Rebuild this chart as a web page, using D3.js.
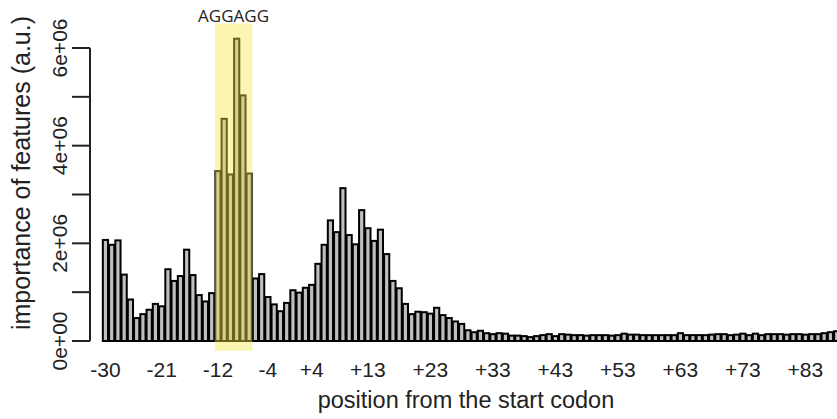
<!DOCTYPE html>
<html lang="en">
<head>
<meta charset="utf-8">
<title>importance of features</title>
<style>
  body { margin: 0; background: #fff; }
  svg text { font-family: "Liberation Sans", Arial, sans-serif; fill: #222; }
</style>
<script src="https://d3js.org/d3.v7.min.js"></script>
</head>
<body>
<div id="viz"></div>
<script>

// positions relative to the start codon (there is no position 0)
var positions = d3.range(-30, 0).map(String)
    .concat(d3.range(1, 89).map(function(d) { return '+' + d; }));

// importance of each position, in millions (a.u.)
var importance = [
  2.07, 1.97, 2.06, 1.36, 0.85, 0.47, 0.55, 0.64, 0.76, 0.71,   // -30 .. -21
  1.47, 1.23, 1.33, 1.87, 1.35, 0.94, 0.81, 0.98,               // -20 .. -13
  3.48, 4.55, 3.41, 6.19, 5.03, 3.43,                           // -12 .. -7 (AGGAGG)
  1.28, 1.37, 0.90, 0.75, 0.61, 0.78,                           // -6 .. -1
  1.04, 0.99, 1.09, 1.15, 1.58, 1.97, 2.47, 2.23, 3.13, 2.17,   // +1 .. +10
  1.98, 2.68, 2.31, 2.05, 2.28, 1.78, 1.23, 1.08, 0.76, 0.55,   // +11 .. +20
  0.60, 0.59, 0.56, 0.68, 0.53, 0.47, 0.40, 0.35, 0.22, 0.18,   // +21 .. +30
  0.21, 0.16, 0.14, 0.16, 0.15, 0.11, 0.11, 0.10, 0.08, 0.10,   // +31 .. +40
  0.12, 0.14, 0.10, 0.14, 0.13, 0.12, 0.12, 0.11, 0.12, 0.12,   // +41 .. +50
  0.12, 0.11, 0.12, 0.15, 0.13, 0.13, 0.12, 0.12, 0.12, 0.12,   // +51 .. +60
  0.12, 0.12, 0.16, 0.12, 0.12, 0.12, 0.12, 0.13, 0.14, 0.14,   // +61 .. +70
  0.12, 0.13, 0.15, 0.12, 0.15, 0.12, 0.14, 0.14, 0.14, 0.13,   // +71 .. +80
  0.14, 0.14, 0.13, 0.14, 0.14, 0.16, 0.18, 0.20                // +81 .. +88
];

var xLabels = ['-30', '-21', '-12', '-4', '+4', '+13', '+23', '+33', '+43', '+53', '+63', '+73', '+83'];
var yTicks = [0, 1e6, 2e6, 3e6, 4e6, 5e6, 6e6];
var yLabels = [[0, '0e+00'], [2e6, '2e+06'], [4e6, '4e+06'], [6e6, '6e+06']];
var motif = ['-12', '-7'];   // highlighted AGGAGG
var motifText = 'AGGAGG';

var width = 837, height = 419;

var svg = d3.select('#viz')
    .append('svg')
    .attr('width', width)
    .attr('height', height);

var x = d3.scaleBand()
    .domain(positions)
    .range([102.3, 102.3 + positions.length * 6.25])
    .paddingInner(0.17)
    .paddingOuter(0.085);

var y = d3.scaleLinear()
    .domain([0, 6e6])
    .range([341, 48]);

// bars
svg.append('g')
  .selectAll('rect')
  .data(importance)
  .enter()
  .append('rect')
    .attr('x', function(d, i) { return x(positions[i]); })
    .attr('y', function(d) { return y(d * 1e6); })
    .attr('width', x.bandwidth())
    .attr('height', function(d) { return y(0) - y(d * 1e6); })
    .attr('fill', '#bfbfbf')
    .attr('stroke', '#000')
    .attr('stroke-width', 2);

// highlight box over the motif
var step = x.step();
var hx0 = x(motif[0]) - (step - x.bandwidth()) / 2;
var hx1 = x(motif[1]) + x.bandwidth() + (step - x.bandwidth()) / 2;
svg.append('rect')
    .attr('x', hx0)
    .attr('y', y(6.5e6))
    .attr('width', hx1 - hx0)
    .attr('height', y(-0.2e6) - y(6.5e6))
    .attr('fill', 'rgb(242,230,70)')
    .attr('opacity', 0.42);

svg.append('text')
    .attr('x', (hx0 + hx1) / 2)
    .attr('y', 22)
    .attr('text-anchor', 'middle')
    .style('font-family', '"Open Sans", sans-serif')
    .style('font-size', '17px')
    .text(motifText);

// y axis (R style)
var yAxis = svg.append('g');
yAxis.append('line')
    .attr('x1', 90).attr('x2', 90)
    .attr('y1', y(6e6)).attr('y2', y(0))
    .attr('stroke', '#222').attr('stroke-width', 2);
yAxis.selectAll('line.tick')
  .data(yTicks)
  .enter()
  .append('line')
    .attr('class', 'tick')
    .attr('x1', 72).attr('x2', 90)
    .attr('y1', function(d) { return y(d); })
    .attr('y2', function(d) { return y(d); })
    .attr('stroke', '#222').attr('stroke-width', 2);
yAxis.selectAll('text')
  .data(yLabels)
  .enter()
  .append('text')
    .attr('transform', function(d) { return 'translate(67,' + y(d[0]) + ') rotate(-90)'; })
    .attr('text-anchor', 'middle')
    .style('font-size', '21px')
    .text(function(d) { return d[1]; });

svg.append('text')
    .attr('transform', 'translate(30,173) rotate(-90)')
    .attr('text-anchor', 'middle')
    .style('font-size', '25px')
    .text('importance of features (a.u.)');

// x labels
svg.append('g')
  .selectAll('text')
  .data(xLabels)
  .enter()
  .append('text')
    .attr('x', function(d) { return x(d) + x.bandwidth() / 2; })
    .attr('y', 377)
    .attr('text-anchor', 'middle')
    .style('font-size', '21px')
    .text(function(d) { return d; });

svg.append('text')
    .attr('x', 466)
    .attr('y', 408)
    .attr('text-anchor', 'middle')
    .style('font-size', '23.5px')
    .text('position from the start codon');

</script>
</body>
</html>
